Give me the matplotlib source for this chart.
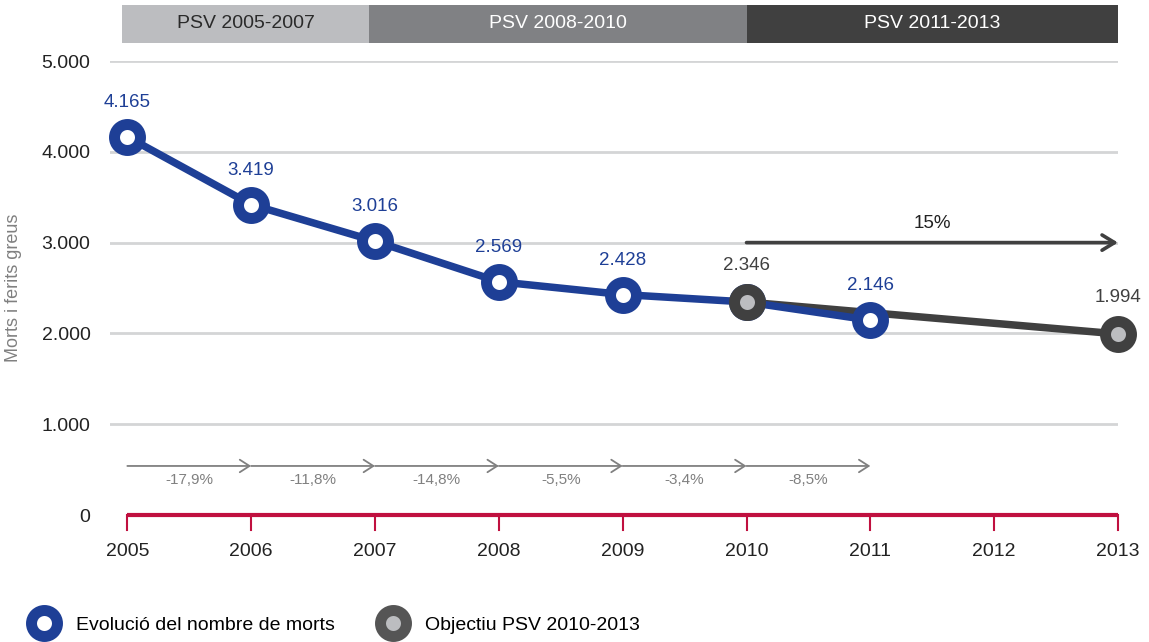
import matplotlib
matplotlib.use("Agg")
import matplotlib.pyplot as plt
from matplotlib.patches import Rectangle
from matplotlib.lines import Line2D

plt.rcParams['font.family'] = ['Liberation Sans Narrow', 'Liberation Sans', 'DejaVu Sans']

# ---- data ----
years = [2005, 2006, 2007, 2008, 2009, 2010, 2011]
deaths = [4165, 3419, 3016, 2569, 2428, 2346, 2146]
obj_years = [2010, 2013]
obj_values = [2346, 1994]
change_labels = ['-17,9%', '-11,8%', '-14,8%', '-5,5%', '-3,4%', '-8,5%']
target_label = '15%'
periods = ['PSV 2005-2007', 'PSV 2008-2010', 'PSV 2011-2013']
period_bounds = [(2004.96, 2006.95), (2006.95, 2010.0), (2010.0, 2013.0)]
yticks = [0, 1000, 2000, 3000, 4000, 5000]
xticks = [2005, 2006, 2007, 2008, 2009, 2010, 2011, 2012, 2013]

BLUE = '#1e3f96'
DARK = '#404040'
LGREY = '#bcbdc0'
MGREY = '#808184'
RED = '#c0103f'

MS = 18.7
MEW = 7.9
LW = 5.4

def fmt(v):
    return f"{v:,}".replace(',', '.')

fig = plt.figure(figsize=(11.49, 6.42), dpi=100)
ax = fig.add_axes([110/1149, 127/642, 1008/1149, 454/642])
ax.set_xlim(2004.86, 2013)
ax.set_ylim(0, 5000)

for s in ax.spines.values():
    s.set_visible(False)

# gridlines
for yv in yticks[1:]:
    ax.axhline(yv, color='#d4d5d6', lw=2, zorder=0)

# red x axis line
ax.plot([2005, 2013], [0, 0], color=RED, lw=3, zorder=2, clip_on=False, solid_capstyle='butt')
for xv in xticks:
    ax.plot([xv, xv], [0, -160], color=RED, lw=1.5, clip_on=False, zorder=2)

ax.set_xticks(xticks)
ax.set_xticklabels([str(x) for x in xticks], fontsize=14, color='#222222')
ax.tick_params(axis='x', length=0, pad=20)
ax.set_yticks(yticks)
ax.set_yticklabels([fmt(v) for v in yticks], fontsize=14, color='#222222')
ax.tick_params(axis='y', length=0, pad=14)
ax.set_ylabel('Morts i ferits greus', fontsize=13, color='#808080', labelpad=14)

# header bars
hcols = [LGREY, MGREY, DARK]
tcols = ['#2a2a2a', 'white', 'white']
for (x0, x1), lab, c, tc in zip(period_bounds, periods, hcols, tcols):
    ax.add_patch(Rectangle((x0, 5198), x1 - x0, 5617 - 5198, facecolor=c, edgecolor='none',
                           clip_on=False, zorder=3))
    ax.text((x0 + x1) / 2, (5198 + 5617) / 2, lab, ha='center', va='center', fontsize=14,
            color=tc, clip_on=False, zorder=4)

# objective line
ax.plot(obj_years, obj_values, color=DARK, lw=LW, zorder=4, solid_capstyle='round', clip_on=False)
# deaths line
ax.plot(years, deaths, color=BLUE, lw=LW, zorder=5, solid_capstyle='round',
        marker='o', ms=MS, mfc='white', mec=BLUE, mew=MEW, clip_on=False)
# objective markers on top
ax.plot(obj_years, obj_values, ls='none', marker='o', ms=MS, mfc=LGREY, mec=DARK, mew=MEW,
        zorder=6, clip_on=False)

# data labels
for x, v in zip(years, deaths):
    if x in obj_years:
        continue
    ax.text(x, v + 380, fmt(v), ha='center', va='center', fontsize=13.5, color=BLUE, zorder=7)
for x, v in zip(obj_years, obj_values):
    ax.text(x, v + 400, fmt(v), ha='center', va='center', fontsize=13.5, color=DARK, zorder=7)

# 15% arrow
ax.annotate('', xy=(2013, 3000), xytext=(2010, 3000),
            arrowprops=dict(arrowstyle='->,head_length=0.9,head_width=0.55', color=DARK, lw=2.6,
                            shrinkA=0, shrinkB=0), zorder=6, annotation_clip=False)
ax.text(2011.5, 3210, target_label, ha='center', va='center', fontsize=13.5, color='#222222')

# small change arrows
for i, lab in enumerate(change_labels):
    x0 = years[i]
    x1 = years[i + 1]
    ax.annotate('', xy=(x1, 540), xytext=(x0, 540),
                arrowprops=dict(arrowstyle='->,head_length=0.7,head_width=0.45', color='#808080',
                                lw=1.3, shrinkA=0, shrinkB=0), zorder=3)
    ax.text((x0 + x1) / 2, 385, lab, ha='center', va='center', fontsize=11, color='#808080')

# legend
h1 = Line2D([], [], ls='none', marker='o', ms=MS, mfc='white', mec=BLUE, mew=MEW)
h2 = Line2D([], [], ls='none', marker='o', ms=MS, mfc=LGREY, mec='#555555', mew=MEW)
fig.legend([h1, h2], ['Evolució del nombre de morts', 'Objectiu PSV 2010-2013'],
           loc='center left', bbox_to_anchor=(20/1149, 1 - 625/642), ncol=2, frameon=False,
           fontsize=14, handlelength=1.5, handletextpad=0.9, columnspacing=2.2, borderpad=0)

fig.savefig('out.png', dpi=100)
